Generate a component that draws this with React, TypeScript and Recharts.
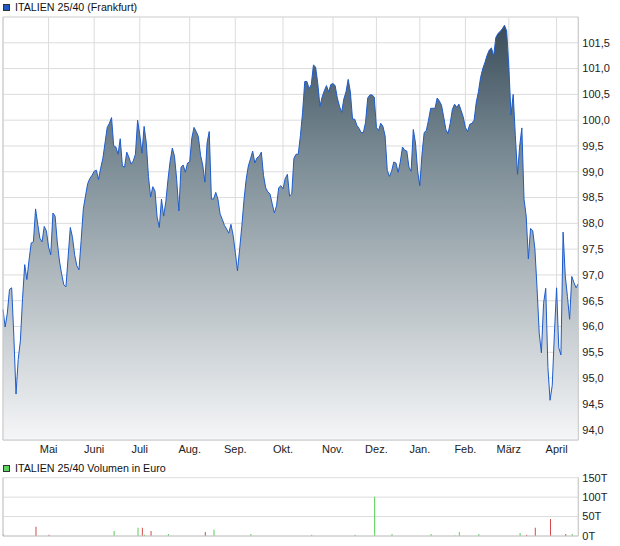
import React from "react";
import {
  AreaChart,
  Area,
  BarChart,
  Bar,
  Cell,
  XAxis,
  YAxis,
  CartesianGrid,
  ReferenceLine,
} from "recharts";

// trading days per month, April of last year through mid April
const monthLabels = ["April", "Mai", "Juni", "Juli", "Aug.", "Sep.", "Okt.", "Nov.", "Dez.", "Jan.", "Feb.", "März", "April"];
const tradingDays = [21, 21, 21, 23, 21, 22, 23, 20, 20, 21, 20, 22, 11];

// daily closing prices (Frankfurt)
const prices = [
  96.33, 95.99, 96.26, 96.72, 96.75, 95.8, 94.69, 95.36, 95.72, 96.54, 97.2, 96.91, 97.29, 97.62, 97.64, 98.28, 97.98, 97.71, 97.64, 97.94, 97.85,
  97.54, 97.39, 98.2, 98.14, 97.64, 97.27, 97.02, 96.81, 96.77, 97.35, 97.92, 97.73, 97.39, 97.18, 97.1, 97.67, 98.28, 98.53, 98.77, 98.87, 98.93,
  99.01, 99.03, 98.85, 99.07, 99.26, 99.56, 99.86, 99.94, 100.05, 99.5, 99.48, 99.34, 99.64, 99.11, 99.09, 99.38, 99.28, 99.15, 99.21, 99.34, 100.0,
  99.72, 99.36, 99.88, 99.56, 98.91, 98.51, 98.71, 98.63, 98.12, 97.92, 98.47, 98.14, 98.42, 98.85, 99.21, 99.46, 99.3, 98.85, 98.24, 99.09, 99.13, 98.99, 99.17,
  99.19, 99.66, 99.86, 99.78, 99.68, 99.32, 99.13, 98.8, 99.56, 99.78, 98.47, 98.47, 98.6, 98.47, 98.18, 98.08, 97.96, 97.89, 97.81, 97.98, 97.77,
  97.44, 97.08, 97.5, 97.94, 98.45, 98.85, 99.11, 99.25, 99.4, 99.17, 99.27, 99.3, 99.38, 98.93, 98.69, 98.61, 98.57, 98.38, 98.2, 98.34, 98.69, 98.73,
  98.67, 98.87, 98.95, 98.53, 98.57, 99.26, 99.34, 99.34, 99.7, 100.15, 100.75, 100.75, 100.61, 100.69, 101.07, 101.03, 100.71, 100.27, 100.45, 100.57, 100.67, 100.55, 100.69,
  100.71, 100.67, 100.43, 100.27, 100.15, 100.41, 100.55, 100.79, 100.55, 100.02, 100.02, 99.9, 99.84, 99.76, 99.76, 99.96, 100.43, 100.49, 100.49, 100.45,
  99.86, 99.8, 99.94, 99.88, 99.7, 99.03, 98.91, 99.01, 99.19, 99.17, 98.99, 99.19, 99.48, 99.42, 99.4, 99.09, 99.01, 99.82, 99.56, 99.01,
  98.73, 99.34, 99.76, 99.8, 100.0, 100.23, 100.23, 100.23, 100.43, 100.37, 100.29, 100.06, 99.82, 99.74, 99.94, 100.21, 100.31, 100.25, 100.31, 100.19, 100.06,
  99.86, 99.78, 99.92, 99.94, 100.0, 100.35, 100.55, 100.83, 101.0, 101.12, 101.26, 101.36, 101.4, 101.24, 101.6, 101.68, 101.72, 101.77, 101.84, 101.73,
  101.04, 100.1, 100.5, 99.7, 98.95, 99.5, 99.85, 98.47, 98.14, 97.31, 97.9, 97.86, 97.51, 96.74, 95.87, 95.49, 96.45, 96.74, 95.2, 94.57, 94.86, 95.87,
  96.75, 95.59, 95.45, 97.83, 96.98, 96.58, 96.14, 96.97, 96.85, 96.75, 96.83,
];

const priceTicks = [94.0, 94.5, 95.0, 95.5, 96.0, 96.5, 97.0, 97.5, 98.0, 98.5, 99.0, 99.5, 100.0, 100.5, 101.0, 101.5];

// volume in thousand euro, on the trading day it happened
const volumeDays = [0, 15, 21, 51, 62, 64, 65, 68, 76, 93, 97, 114, 142, 162, 171, 179, 197, 208, 210, 219, 238, 241, 245, 252, 259, 262];
const volumeValues = [5, 24, 3, 13, 21, 21, 3, 13, 5, 10, 16, 5, 3, 3, 101, 5, 5, 1, 10, 5, 8, 3, 21, 44, 5, 5];
const volumeDirection = [
  "up", "down", "down", "up", "up", "down", "up", "down", "up", "down", "up", "up", "up",
  "up", "up", "up", "up", "up", "up", "up", "up", "down", "down", "down", "down", "up",
];
const volumeTicks = [0, 50, 100, 150];

const monthStarts: number[] = [];
tradingDays.reduce((acc, n) => {
  monthStarts.push(acc);
  return acc + n;
}, 0);
const monthTicks = monthStarts.slice(1);
const lastIndex = prices.length - 1;

const priceData = prices.map((p, i) => ({ i, price: p }));
const volumeData = volumeDays.map((d, k) => ({ i: d, vol: volumeValues[k], dir: volumeDirection[k] }));

const FONT = "'Liberation Sans', Arial, sans-serif";
const GRID = "#dcdcdc";
const BORDER = "#c8c8c8";
const tickStyle = { fontSize: 11, fill: "#222", fontFamily: FONT };

const monthName = (v: number) => monthLabels[monthStarts.indexOf(v)] ?? "";
const priceLabel = (v: number) => v.toFixed(1).replace(".", ",");

function LegendRow({ top, color, label }: { top: number; color: string; label: string }) {
  return (
    <div style={{ position: "absolute", left: 3, top, height: 12, display: "flex", alignItems: "center" }}>
      <span style={{ width: 5, height: 5, background: color, border: "1px solid #333", marginRight: 5 }} />
      <span style={{ fontSize: 10.7, color: "#111", fontFamily: FONT, whiteSpace: "nowrap" }}>{label}</span>
    </div>
  );
}

export default function App() {
  return (
    <div style={{ position: "absolute", left: 0, top: 0, width: 620, height: 546, background: "#fff" }}>
      <LegendRow top={1} color="#1f57c3" label="ITALIEN 25/40 (Frankfurt)" />

      <div style={{ position: "absolute", left: 0, top: 0 }}>
        <AreaChart width={620} height={460} data={priceData} margin={{ top: 17, right: 0, bottom: 0, left: 3 }}>
          <defs>
            <linearGradient id="priceFill" x1="0" y1="0" x2="0" y2="1">
              <stop offset="0%" stopColor="#3a4d59" />
              <stop offset="30%" stopColor="#778892" />
              <stop offset="62%" stopColor="#b2bbc0" />
              <stop offset="100%" stopColor="#f5f6f8" />
            </linearGradient>
          </defs>
          <CartesianGrid stroke={GRID} />
          <XAxis
            dataKey="i"
            type="number"
            domain={[0, lastIndex]}
            ticks={monthTicks}
            tickFormatter={monthName}
            tick={tickStyle}
            tickLine={false}
            tickSize={0}
            tickMargin={5}
            axisLine={{ stroke: BORDER }}
            height={20}
            interval={0}
          />
          <YAxis
            orientation="right"
            type="number"
            domain={[93.8, 102]}
            ticks={priceTicks}
            tickFormatter={priceLabel}
            tick={tickStyle}
            tickLine={false}
            tickSize={0}
            tickMargin={4}
            axisLine={{ stroke: BORDER }}
            width={41.7}
            interval={0}
            allowDataOverflow
          />
          <ReferenceLine x={0} stroke={BORDER} />
          <ReferenceLine y={102} stroke={GRID} />
          <Area
            type="linear"
            dataKey="price"
            stroke="#1d5ccc"
            strokeWidth={1}
            fill="url(#priceFill)"
            fillOpacity={1}
            dot={false}
            activeDot={false}
            isAnimationActive={false}
          />
        </AreaChart>
      </div>

      <LegendRow top={462} color="#5fd35f" label="ITALIEN 25/40 Volumen in Euro" />

      <div style={{ position: "absolute", left: 0, top: 470 }}>
        <BarChart width={620} height={76} data={volumeData} margin={{ top: 7.7, right: 0, bottom: 0, left: 3 }}>
          <CartesianGrid stroke={GRID} />
          <XAxis
            dataKey="i"
            type="number"
            domain={[0, lastIndex]}
            ticks={monthTicks}
            tick={false}
            tickLine={false}
            axisLine={{ stroke: BORDER }}
            height={10}
            interval={0}
          />
          <YAxis
            orientation="right"
            type="number"
            domain={[0, 150]}
            ticks={volumeTicks}
            tickFormatter={(v: number) => `${v}T`}
            tick={tickStyle}
            tickLine={false}
            tickSize={0}
            tickMargin={4}
            axisLine={{ stroke: BORDER }}
            width={41.7}
            interval={0}
          />
          <ReferenceLine x={0} stroke={BORDER} />
          <Bar dataKey="vol" barSize={1} isAnimationActive={false}>
            {volumeData.map((d, k) => (
              <Cell key={k} fill={d.dir === "up" ? "#55d055" : "#d64a4a"} />
            ))}
          </Bar>
        </BarChart>
      </div>
    </div>
  );
}
